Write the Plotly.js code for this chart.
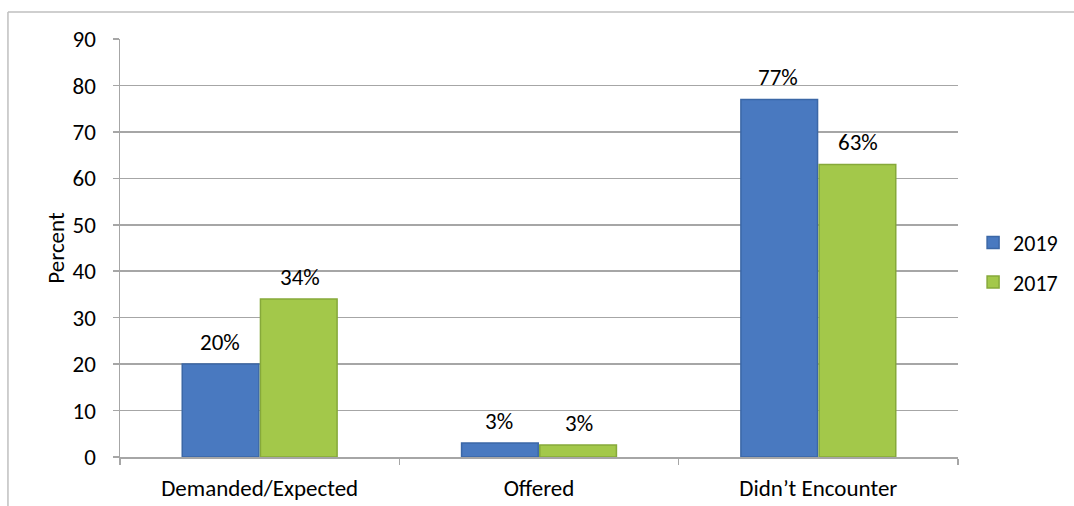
<!DOCTYPE html>
<html>
<head>
<meta charset="utf-8">
<script src="https://cdn.plot.ly/plotly-3.0.1.min.js"></script>
<style>html,body{margin:0;padding:0;background:#fff;}#chart{width:1074px;height:506px;}</style>
</head>
<body>
<div id="chart"></div>
<script>
const categories = ["Demanded/Expected", "Offered", "Didn\u2019t Encounter"];
const values2019 = [20, 3, 77];
const values2017 = [34, 2.6, 63];
const labels2019 = ["20%", "3%", "77%"];
const labels2017 = ["34%", "3%", "63%"];
const yTicks = [0, 10, 20, 30, 40, 50, 60, 70, 80, 90];

const FONT = "Carlito, Lato, 'Liberation Sans', sans-serif";
const FS = 23;

const traces = [
  {
    type: "bar", name: "2019", x: categories, y: values2019,
    marker: {color: "#4979c0", line: {color: "#3b67a6", width: 1.5}},
    legendgroup: "a", hoverinfo: "none"
  },
  {
    type: "bar", name: "2017", x: categories, y: values2017,
    marker: {color: "#a3c84a", line: {color: "#86a93a", width: 1.5}},
    legendgroup: "b", hoverinfo: "none"
  }
];

// value labels above bars, built from the data arrays
const annotations = [];
const series = [[values2019, labels2019, -40], [values2017, labels2017, 40]];
series.forEach(([vals, labs, shift]) => {
  categories.forEach((c, i) => {
    annotations.push({
      x: c, y: vals[i], xref: "x", yref: "y", text: labs[i], showarrow: false,
      xanchor: "center", yanchor: "bottom", xshift: shift, yshift: 6,
      font: {family: FONT, size: FS, color: "#000"}
    });
  });
});

const layout = {
  width: 1074, height: 506,
  margin: {l: 120, r: 116, t: 39, b: 49, autoexpand: false},
  paper_bgcolor: "#fff", plot_bgcolor: "#fff",
  font: {family: FONT, size: FS, color: "#000"},
  barmode: "group", bargap: 0.44, bargroupgap: 0.02,
  showlegend: true,
  legend: {x: 1.018, y: 0.465, xanchor: "left", yanchor: "middle",
           traceorder: "grouped", tracegroupgap: 8,
           font: {family: FONT, size: 22, color: "#000"}, itemwidth: 30},
  xaxis: {
    type: "category", showgrid: false, tickson: "boundaries",
    ticks: "outside", ticklen: 6, tickcolor: "#a6a6a6", tickwidth: 1.5,
    showline: true, linecolor: "#a6a6a6", linewidth: 1.5,
    ticklabelstandoff: 10,
    tickfont: {family: FONT, size: FS, color: "#000"}, fixedrange: true
  },
  yaxis: {
    range: [0, 90], tickvals: yTicks, ticktext: yTicks.map(String),
    showgrid: true, gridcolor: "#a6a6a6", gridwidth: 1.5, zeroline: false,
    ticks: "outside", ticklen: 6, tickcolor: "#a6a6a6", tickwidth: 1.5,
    showline: true, linecolor: "#a6a6a6", linewidth: 1.5,
    ticklabelstandoff: 12,
    tickfont: {family: FONT, size: FS, color: "#000"},
    title: {text: "Percent", font: {family: FONT, size: FS, color: "#000"}, standoff: 1},
    fixedrange: true
  },
  annotations: annotations,
  shapes: [
    {type: "line", xref: "paper", yref: "paper", x0: -0.1337, x1: 1.15, y0: 1.0646, y1: 1.0646,
     line: {color: "#bfbfbf", width: 1.5}},
    {type: "line", xref: "paper", yref: "paper", x0: -0.1337, x1: -0.1337, y0: 1.0646, y1: -0.12,
     line: {color: "#bfbfbf", width: 1.5}}
  ]
};

Plotly.newPlot("chart", traces, layout, {displayModeBar: false, staticPlot: true});
</script>
</body>
</html>
